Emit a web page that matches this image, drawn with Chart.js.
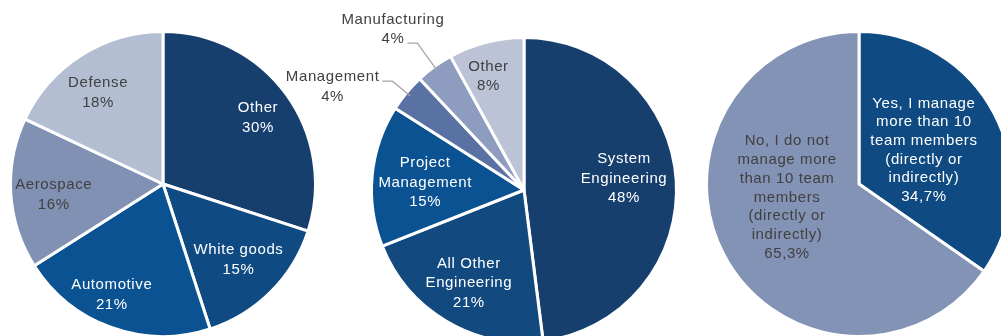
<!DOCTYPE html>
<html>
<head>
<meta charset="utf-8">
<script src="https://cdn.jsdelivr.net/npm/chart.js@4.4.1/dist/chart.umd.min.js"></script>
<style>
  html, body { margin: 0; padding: 0; background: #fff; overflow: hidden; }
  body { width: 1001px; height: 336px; position: relative; }
  canvas { position: absolute; }
  #industryChart { left: 9px; top: 30px; }
  #roleChart { left: 280px; top: 0px; }
  #teamChart { left: 705px; top: 30px; }
</style>
</head>
<body>
<canvas id="industryChart" width="308" height="308"></canvas>
<canvas id="roleChart" width="400" height="344"></canvas>
<canvas id="teamChart" width="308" height="308"></canvas>

<script>
// ---------- DATA ----------

var industryLabels = ["Other", "White goods", "Automotive", "Aerospace", "Defense"];
var industryShares = [30, 15, 21, 16, 18];

var roleLabels = ["System\nEngineering", "All Other\nEngineering", "Project\nManagement", "Management", "Manufacturing", "Other"];
var roleShares = [48, 21, 15, 4, 4, 8];

var teamLabels = [
  "Yes, I manage\nmore than 10\nteam members\n(directly or\nindirectly)",
  "No, I do not\nmanage more\nthan 10 team\nmembers\n(directly or\nindirectly)"
];
var teamShares = [34.7, 65.3];


// ---------- STYLE ----------

var WHITE_TEXT = "#ffffff";
var DARK_TEXT = "#404040";
var FONT = "15px 'Liberation Sans', Arial, sans-serif";

// label placement per slice: r = fraction of radius, da = angle nudge (deg)
// outside labels get an elbow leader line instead
var industryPlace = [
  { r: 0.76, da: 1, color: WHITE_TEXT },
  { r: 0.70, color: WHITE_TEXT },
  { r: 0.80, da: 5, color: WHITE_TEXT },
  { r: 0.72, da: -2, color: DARK_TEXT },
  { r: 0.735, da: -3, color: DARK_TEXT }
];
var rolePlace = [
  { r: 0.66, da: -3, color: WHITE_TEXT },
  { r: 0.71, color: WHITE_TEXT },
  { r: 0.65, da: -1, color: WHITE_TEXT },
  { outside: true, elbow: 1.12, attach: 0, lift: 4, color: DARK_TEXT },
  { outside: true, elbow: 1.19, attach: 1, lift: 4, color: DARK_TEXT },
  { r: 0.78, da: -3, color: DARK_TEXT }
];
var teamPlace = [
  { r: 0.48, color: WHITE_TEXT },
  { r: 0.48, da: 17, color: DARK_TEXT }
];

function pct(v) {
  var s = (Math.round(v) === v) ? String(v) : v.toFixed(1).replace(".", ",");
  return s + "%";
}

// draws the in-slice and leader-line labels
var sliceLabels = {
  id: "sliceLabels",
  afterDatasetsDraw: function(chart, args, opts) {
    var ctx = chart.ctx;
    var meta = chart.getDatasetMeta(0);
    var values = chart.data.datasets[0].data;
    var labels = chart.data.labels;
    var lh = opts.lineHeight;
    ctx.save();
    ctx.font = FONT;
    ctx.letterSpacing = "0.6px";
    ctx.textBaseline = "middle";
    ctx.textAlign = "center";
    meta.data.forEach(function(arc, i) {
      var p = arc.getProps(["x", "y", "startAngle", "endAngle", "outerRadius"], true);
      var place = opts.place[i];
      var lines = labels[i].split("\n").concat([pct(values[i])]);
      var mid = (p.startAngle + p.endAngle) / 2 + (place.da || 0) * Math.PI / 180;
      ctx.fillStyle = place.color;

      if (place.outside) {
        var ax = p.x + Math.cos(mid) * p.outerRadius * 0.97;
        var ay = p.y + Math.sin(mid) * p.outerRadius * 0.97;
        var ex = p.x + Math.cos(mid) * p.outerRadius * place.elbow;
        var ey = p.y + Math.sin(mid) * p.outerRadius * place.elbow;
        var hx = ex - 10;
        ctx.strokeStyle = "#a6a6a6";
        ctx.lineWidth = 1.3;
        ctx.beginPath();
        ctx.moveTo(ax, ay);
        ctx.lineTo(ex, ey);
        ctx.lineTo(hx, ey);
        ctx.stroke();
        var w = ctx.measureText(lines[place.attach]).width;
        var cx = hx - 3 - w / 2;
        lines.forEach(function(t, k) {
          ctx.fillText(t, cx, ey - place.lift + (k - place.attach) * lh);
        });
        return;
      }

      var lx = p.x + Math.cos(mid) * p.outerRadius * place.r;
      var ly = p.y + Math.sin(mid) * p.outerRadius * place.r;
      var top = ly - (lines.length - 1) * lh / 2;
      lines.forEach(function(t, k) {
        ctx.fillText(t, lx, top + k * lh);
      });
    });
    ctx.restore();
  }
};

function makePie(id, labels, values, colors, place, padding, lineHeight) {
  var ctx = document.getElementById(id).getContext("2d");
  return new Chart(ctx, {
    type: "pie",
    data: {
      labels: labels,
      datasets: [{
        data: values,
        backgroundColor: colors,
        borderColor: "#ffffff",
        borderWidth: 3
      }]
    },
    options: {
      responsive: false,
      animation: false,
      layout: { padding: padding },
      plugins: {
        legend: { display: false },
        tooltip: { enabled: false },
        sliceLabels: { place: place, lineHeight: lineHeight }
      }
    },
    plugins: [sliceLabels]
  });
}


// ---------- CHARTS ----------

var industryChart = makePie("industryChart", industryLabels, industryShares,
  ["#163f6e", "#0f4a82", "#0a5292", "#8191b4", "#b4bed3"], industryPlace, 0, 20);

// wider canvas so the leader-line labels have room on the left
var roleChart = makePie("roleChart", roleLabels, roleShares,
  ["#163f6e", "#124a80", "#0a5292", "#5a72a3", "#8e9dbf", "#bcc3d6"], rolePlace,
  { left: 90, right: 2, top: 36, bottom: 0 }, 19.5);

var teamChart = makePie("teamChart", teamLabels, teamShares,
  ["#0f4a82", "#8393b5"], teamPlace, 0, 18.7);
</script>
</body>
</html>
